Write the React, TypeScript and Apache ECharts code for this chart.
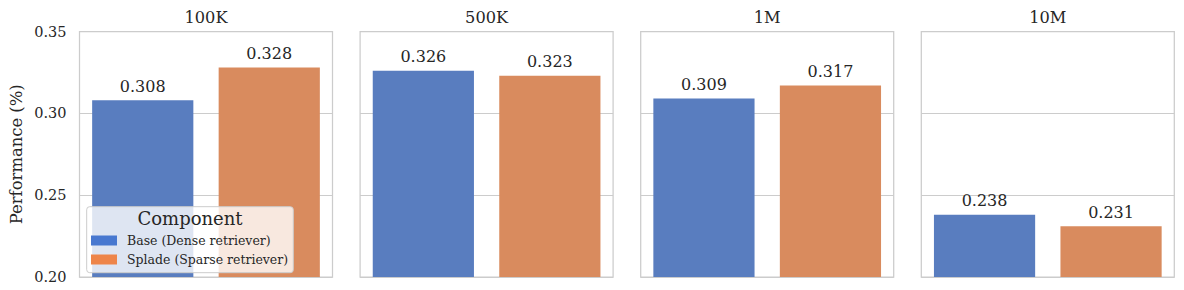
import React, { useEffect, useRef } from "react";
import * as echarts from "echarts";

const panels = ["100K", "500K", "1M", "10M"];
const components = ["Base (Dense retriever)", "Splade (Sparse retriever)"];
const baseValues = [0.308, 0.326, 0.309, 0.238];
const spladeValues = [0.328, 0.323, 0.317, 0.231];
const yTicks = [0.2, 0.25, 0.3, 0.35];

const barColors = ["#597dbf", "#d98b5e"];
const legendColors = ["#4878d0", "#ee854a"];
const FONT = "'DejaVu Serif', serif";
const TEXT = "#262626";

export default function App() {
  const ref = useRef<HTMLDivElement>(null);
  useEffect(() => {
    if (!ref.current) return;
    const chart = echarts.init(ref.current, undefined, { renderer: "svg" });
    const L0 = 79.5;
    const step = 280.6;
    const W = 253;
    const top = 31.5;
    const H = 245.5;
    const grids = panels.map((_, i) => ({
      left: L0 + i * step,
      top,
      width: W,
      height: H,
      show: true,
      borderColor: "#cccccc",
      borderWidth: 1.25,
      backgroundColor: "#ffffff",
      containLabel: false,
    }));
    const xAxes = panels.map((p, i) => ({
      type: "category",
      gridIndex: i,
      data: [p],
      axisLabel: { show: false },
      axisTick: { show: false },
      axisLine: { show: false },
    }));
    const yAxes = panels.map((_, i) => ({
      type: "value",
      gridIndex: i,
      min: yTicks[0],
      max: yTicks[yTicks.length - 1],
      interval: 0.05,
      name: i === 0 ? "Performance (%)" : "",
      nameLocation: "middle",
      nameGap: 55,
      nameTextStyle: { fontFamily: FONT, fontSize: 16.4, color: TEXT },
      axisLabel: {
        show: i === 0,
        formatter: (v: number) => v.toFixed(2),
        fontFamily: FONT,
        fontSize: 14.5,
        color: TEXT,
        margin: 13,
      },
      axisTick: { show: false },
      axisLine: { show: false },
      splitLine: { show: true, lineStyle: { color: "#cccccc", width: 1 } },
    }));
    const series: any[] = [];
    panels.forEach((_, i) => {
      [baseValues, spladeValues].forEach((vals, k) => {
        series.push({
          type: "bar",
          name: components[k],
          xAxisIndex: i,
          yAxisIndex: i,
          data: [vals[i]],
          barGap: "25%",
          barCategoryGap: "10%",
          itemStyle: { color: barColors[k] },
          label: {
            show: true,
            position: "top",
            distance: 6,
            formatter: (p: any) => Number(p.value).toFixed(3),
            fontFamily: FONT,
            fontSize: 16,
            color: TEXT,
          },
        });
      });
    });
    const titles = panels.map((p, i) => ({
      type: "text",
      x: L0 + i * step + W / 2,
      y: 17,
      style: {
        text: p,
        textAlign: "center",
        textVerticalAlign: "middle",
        fontFamily: FONT,
        fontSize: 16.2,
        fill: TEXT,
      },
    }));
    chart.setOption({
      animation: false,
      grid: grids,
      xAxis: xAxes,
      yAxis: yAxes,
      series,
      legend: {
        orient: "vertical",
        left: 91,
        top: 234,
        itemWidth: 26,
        itemHeight: 10,
        itemGap: 6,
        padding: 0,
        icon: "rect",
        selectedMode: false,
        z: 20,
        textStyle: {
          fontFamily: FONT,
          fontSize: 12.5,
          color: TEXT,
          lineHeight: 13,
          padding: [0, 0, 0, 5],
        },
        data: components.map((c, k) => ({
          name: c,
          itemStyle: { color: legendColors[k] },
        })),
      },
      graphic: [
        ...titles,
        {
          type: "rect",
          z: 15,
          shape: { x: 86.7, y: 206.7, width: 206.6, height: 66, r: 3 },
          style: { fill: "rgba(255,255,255,0.8)", stroke: "#cccccc", lineWidth: 1 },
        },
        {
          type: "text",
          z: 21,
          x: 190,
          y: 218.5,
          style: {
            text: "Component",
            textAlign: "center",
            textVerticalAlign: "middle",
            fontFamily: FONT,
            fontSize: 18,
            fill: TEXT,
          },
        },
      ],
    });
    return () => chart.dispose();
  }, []);
  return (
    <div
      ref={ref}
      style={{ position: "fixed", left: 0, top: 0, width: 1184, height: 290, background: "#fff" }}
    />
  );
}
